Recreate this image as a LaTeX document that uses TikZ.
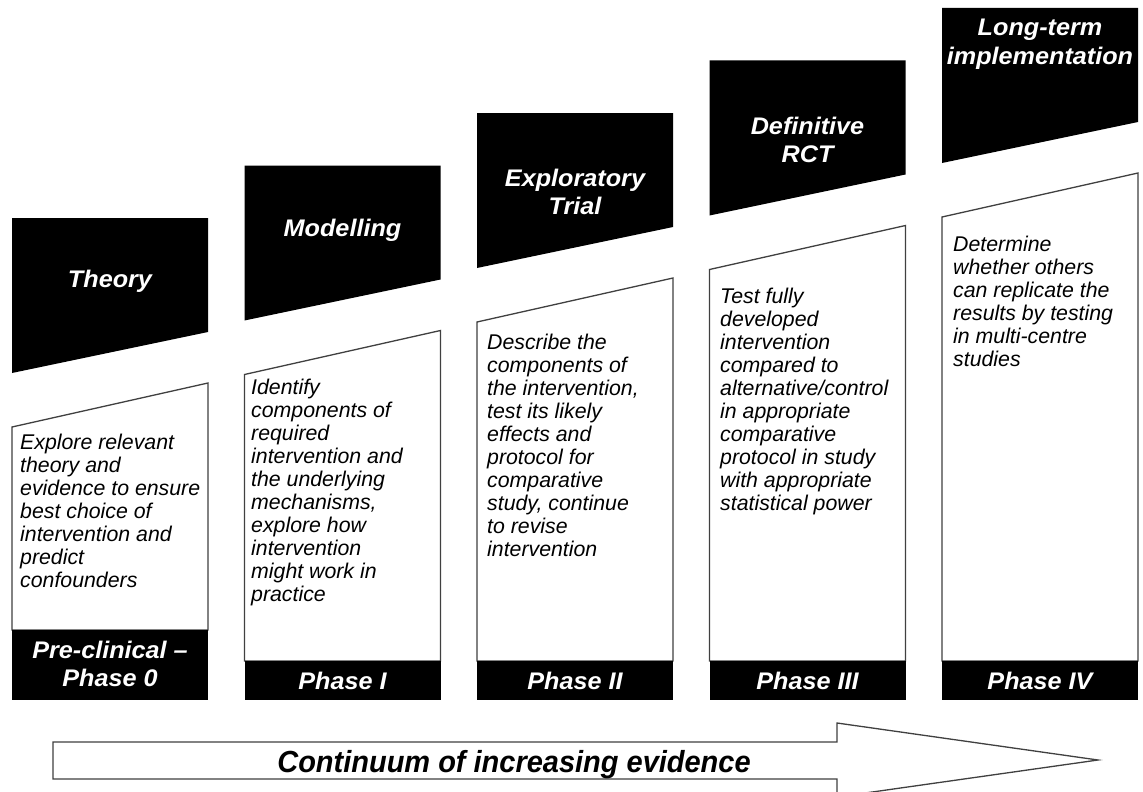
\documentclass[tikz,border=0pt]{standalone}
\usepackage{fontspec}
\newfontfamily\bodyfont[Ligatures=TeX]{Liberation Sans}
\newfontfamily\hdfont[FakeStretch=1.05,Ligatures=TeX]{Liberation Sans}
\newfontfamily\arrfont[FakeStretch=0.95]{Liberation Sans}
\newcommand\fstrut{\rule{0pt}{16pt}}
\begin{document}
\begin{tikzpicture}[x=1pt,y=-1pt,
  hdrshape/.style={fill=black},
  boxshape/.style={draw=black!75,line width=1.3pt,fill=white},
  footshape/.style={fill=black},
  hdr/.style={text=white,align=center,inner sep=0pt,font=\hdfont\bfseries\itshape\fontsize{24}{28.5}\selectfont},
  body/.style={anchor=north west,inner sep=0pt,align=left,font=\bodyfont\itshape\fontsize{21.3}{23}\selectfont},
  arrowshape/.style={draw=black!75,line width=1.3pt,fill=white},
  arrtext/.style={inner sep=0pt,font=\arrfont\bfseries\itshape\fontsize{30.5}{34}\selectfont}]
\clip (0,0) rectangle (1143,792);
\fill[white] (0,0) rectangle (1143,792);

% column 1
\fill[hdrshape] (12,218) -- (208,218) -- (208,332) -- (12,373) -- cycle;
\draw[boxshape] (12,427) -- (208,383) -- (208,630) -- (12,630) -- cycle;
\fill[footshape] (12,630) rectangle (208,700);
% column 2
\fill[hdrshape] (244.5,165.5) -- (440.5,165.5) -- (440.5,279.5) -- (244.5,320.5) -- cycle;
\draw[boxshape] (244.5,374.5) -- (440.5,330.5) -- (440.5,661) -- (244.5,661) -- cycle;
\fill[footshape] (244.5,661) rectangle (440.5,700);
% column 3
\fill[hdrshape] (477,113) -- (673,113) -- (673,227) -- (477,268) -- cycle;
\draw[boxshape] (477,322) -- (673,278) -- (673,661) -- (477,661) -- cycle;
\fill[footshape] (477,661) rectangle (673,700);
% column 4
\fill[hdrshape] (709.5,60.5) -- (905.5,60.5) -- (905.5,174.5) -- (709.5,215.5) -- cycle;
\draw[boxshape] (709.5,269.5) -- (905.5,225.5) -- (905.5,661) -- (709.5,661) -- cycle;
\fill[footshape] (709.5,661) rectangle (905.5,700);
% column 5
\fill[hdrshape] (942,8) -- (1138,8) -- (1138,122) -- (942,163) -- cycle;
\draw[boxshape] (942,217) -- (1138,173) -- (1138,661) -- (942,661) -- cycle;
\fill[footshape] (942,661) rectangle (1138,700);

% header texts
\node[hdr] (h1) at (110,281) {Theory};
\node[hdr] (h2) at (342.5,230) {Modelling};
\node[hdr] (h3) at (575,192) {Exploratory\\Trial};
\node[hdr] (h4) at (807.5,140) {Definitive\\RCT};
\node[hdr] (h5) at (1040,44) {Long-term\\implementation};

% body texts
\node[body] (b1) at (20,433) {\fstrut Explore relevant\\theory and\\evidence to ensure\\best choice of\\intervention and\\predict\\confounders};
\node[body] (b2) at (251,378) {\fstrut Identify\\components of\\required\\intervention and\\the underlying\\mechanisms,\\explore how\\intervention\\might work in\\practice};
\node[body] (b3) at (487,333) {\fstrut Describe the\\components of\\the intervention,\\test its likely\\effects and\\protocol for\\comparative\\study, continue\\to revise\\intervention};
\node[body] (b4) at (720,287) {\fstrut Test fully\\developed\\intervention\\compared to\\alternative/control\\in appropriate\\comparative\\protocol in study\\with appropriate\\statistical power};
\node[body] (b5) at (953,235) {\fstrut Determine\\whether others\\can replicate the\\results by testing\\in multi-centre\\studies};

% footer texts
\node[hdr] (f1) at (110,664) {Pre-clinical –\\Phase 0};
\node[hdr] (f2) at (342.5,681) {Phase I};
\node[hdr] (f3) at (575,681) {Phase II};
\node[hdr] (f4) at (807.5,681) {Phase III};
\node[hdr] (f5) at (1040,681) {Phase IV};

% arrow
\draw[arrowshape] (53,742) -- (837,742) -- (837,723) -- (1098,760) -- (837,797) -- (837,779) -- (53,779) -- cycle;
\node[arrtext,anchor=base] (arr) at (514,772) {Continuum of increasing evidence};
\end{tikzpicture}
\end{document}
